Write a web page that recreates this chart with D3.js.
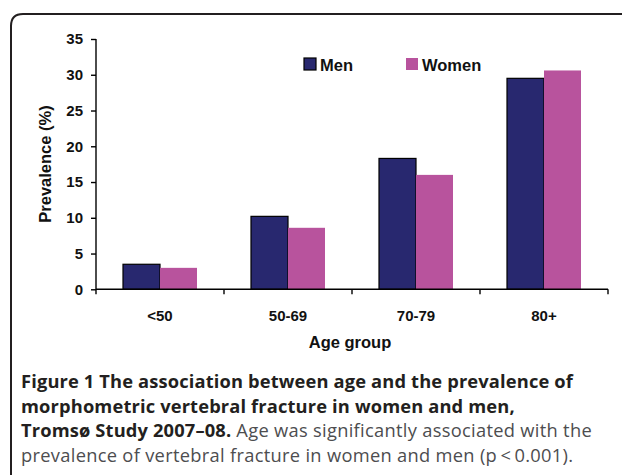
<!DOCTYPE html>
<html>
<head>
<meta charset="utf-8">
<script src="https://cdn.jsdelivr.net/npm/d3@7"></script>
<style>
  html, body { margin: 0; padding: 0; background: #fff; }
  svg { display: block; }
</style>
</head>
<body>
<svg id="chart" width="622" height="475"></svg>
<script>
// age groups and prevalence (%)
const AGE_GROUPS = ["<50", "50-69", "70-79", "80+"];
const SERIES = ["Men", "Women"];
const MEN = [3.5, 10.2, 18.3, 29.5];
const WOMEN = [3.0, 8.6, 16.0, 30.6];
const Y_TICKS = [0, 5, 10, 15, 20, 25, 30, 35];

const CAPTION = [
	[{ t: "Figure 1 The association between age and the prevalence of", b: true }],
	[{ t: "morphometric vertebral fracture in women and men,", b: true }],
	[{ t: "Tromsø Study 2007–08.", b: true }, { t: " Age was significantly associated with the", b: false }],
	[{ t: "prevalence of vertebral fracture in women and men (p\u2009<\u20090.001).", b: false }],
];

const COLORS = { Men: "#28286f", Women: "#b8539d" };

const svg = d3.select("#chart");
const chartFont = "'Liberation Sans', Arial, sans-serif";

// outer frame (rounded, runs off the right and bottom edges)
svg.append("path")
	.attr("d", "M11,480 V26 Q11,14 23,14 H640")
	.attr("fill", "none")
	.attr("stroke", "#231f20")
	.attr("stroke-width", 2);

const x = d3.scaleBand().domain(AGE_GROUPS).range([96, 608]);
const xSub = d3.scaleBand().domain(SERIES).range([27, 101]);
const y = d3.scaleLinear().domain([0, 35]).range([289.3, 39]);

const data = AGE_GROUPS.map((g, i) => ({ group: g, Men: MEN[i], Women: WOMEN[i] }));

// bars
const groups = svg.append("g")
	.selectAll("g")
	.data(data)
	.join("g")
	.attr("transform", d => `translate(${x(d.group)},0)`);

groups.selectAll("rect")
	.data(d => SERIES.map(s => ({ s, v: d[s] })))
	.join("rect")
	.attr("x", d => xSub(d.s))
	.attr("y", d => y(d.v))
	.attr("width", xSub.bandwidth())
	.attr("height", d => y(0) - y(d.v))
	.attr("fill", d => COLORS[d.s])
	.attr("stroke", d => d.s === "Men" ? "#000" : "none")
	.attr("stroke-width", 1.2);

// y axis
const yAxis = svg.append("g")
	.attr("transform", "translate(96,0)")
	.call(d3.axisLeft(y).tickValues(Y_TICKS).tickSize(5).tickPadding(8).tickSizeOuter(0));
yAxis.select(".domain").attr("stroke", "#000").attr("stroke-width", 1.4)
	.attr("d", `M0,${y(35)}V${y(0) + 5}`);
yAxis.selectAll(".tick line").attr("stroke", "#000").attr("stroke-width", 1.4);
yAxis.selectAll(".tick text")
	.attr("font-family", chartFont)
	.attr("font-weight", "bold")
	.attr("font-size", 15)
	.attr("fill", "#111");

// x axis: ticks between groups
const xAxis = svg.append("g").attr("transform", `translate(0,${y(0)})`);
xAxis.append("line")
	.attr("x1", x.range()[0]).attr("x2", x.range()[1])
	.attr("stroke", "#000").attr("stroke-width", 1.4);
xAxis.selectAll(".sep")
	.data(AGE_GROUPS)
	.join("line")
	.attr("class", "sep")
	.attr("x1", d => x(d) + x.bandwidth())
	.attr("x2", d => x(d) + x.bandwidth())
	.attr("y1", 0).attr("y2", 5)
	.attr("stroke", "#000").attr("stroke-width", 1.4);
xAxis.selectAll(".lab")
	.data(AGE_GROUPS)
	.join("text")
	.attr("class", "lab")
	.attr("x", d => x(d) + x.bandwidth() / 2)
	.attr("y", 32)
	.attr("text-anchor", "middle")
	.attr("font-family", chartFont)
	.attr("font-weight", "bold")
	.attr("font-size", 15)
	.attr("fill", "#111")
	.text(d => d);

// axis titles
svg.append("text")
	.attr("x", 350)
	.attr("y", 348)
	.attr("text-anchor", "middle")
	.attr("font-family", chartFont)
	.attr("font-weight", "bold")
	.attr("font-size", 16.5)
	.attr("fill", "#111")
	.text("Age group");

svg.append("text")
	.attr("transform", "translate(51,164) rotate(-90)")
	.attr("text-anchor", "middle")
	.attr("font-family", chartFont)
	.attr("font-weight", "bold")
	.attr("font-size", 16.5)
	.attr("fill", "#111")
	.text("Prevalence (%)");

// legend
const legendX = [304, 406];
const legend = svg.append("g")
	.selectAll("g")
	.data(SERIES)
	.join("g")
	.attr("transform", (d, i) => `translate(${legendX[i]},58)`);
legend.append("rect")
	.attr("width", 12).attr("height", 12)
	.attr("fill", d => COLORS[d])
	.attr("stroke", d => d === "Men" ? "#000" : "none")
	.attr("stroke-width", 1.2);
legend.append("text")
	.attr("x", 16)
	.attr("y", 12.8)
	.attr("font-family", chartFont)
	.attr("font-weight", "bold")
	.attr("font-size", 16.5)
	.attr("fill", "#111")
	.text(d => d);

// caption
const cap = svg.append("g")
	.attr("font-family", "'Open Sans', 'Noto Sans', sans-serif")
	.attr("font-size", 18.3);
cap.selectAll("text")
	.data(CAPTION)
	.join("text")
	.attr("x", 21)
	.attr("y", (d, i) => 388 + i * 24.6)
	.selectAll("tspan")
	.data(d => d)
	.join("tspan")
	.attr("font-weight", d => d.b ? "bold" : "normal")
	.attr("letter-spacing", d => d.b ? 0.15 : 0.3)
	.attr("fill", d => d.b ? "#231f20" : "#4d4d4f")
	.text(d => d.t);
</script>
</body>
</html>
